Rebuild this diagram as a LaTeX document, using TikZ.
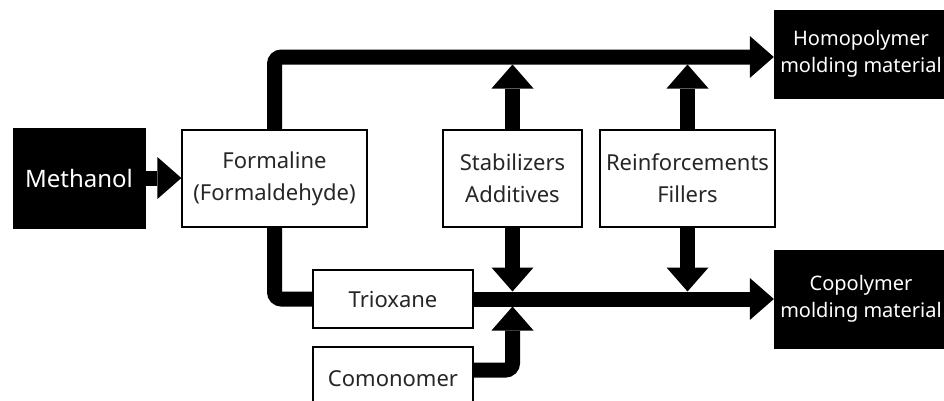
\documentclass[tikz,border=0pt]{standalone}
\usepackage{fontspec}
\setmainfont{Noto Sans}
\usetikzlibrary{arrows.meta}
\tikzset{
  wbox/.style={draw=black, line width=1.3pt, fill=white, align=center, text=black!85,
    inner sep=0pt, font=\fontsize{22}{32}\selectfont},
  bbox/.style={draw=black, fill=black, align=center, text=white,
    inner sep=0pt, font=\fontsize{20}{27}\selectfont},
  pipe/.style={line width=15pt, draw=black},
  flow/.style={pipe, -{Triangle[width=42pt,length=24pt,line width=0pt]}},
}
\begin{document}
\begin{tikzpicture}[x=1pt,y=-1pt]
\useasboundingbox (0,0) rectangle (944,400);
% boxes
\node[bbox, minimum width=132pt, minimum height=100pt, font=\fontsize{24}{30}\selectfont] (meth) at (79,178) {Methanol};
\node[wbox, minimum width=185pt, minimum height=97pt] (form) at (274.5,178.5) {Formaline\\(Formaldehyde)};
\node[wbox, minimum width=139pt, minimum height=97pt] (stab) at (512.5,178.5) {Stabilizers\\Additives};
\node[wbox, minimum width=175pt, minimum height=97pt] (reinf) at (687.5,178.5) {Reinforcements\\Fillers};
\node[bbox, minimum width=174pt, minimum height=88pt] (homo) at (861,54) {Homopolymer\\molding material};
\node[bbox, minimum width=174pt, minimum height=98pt] (copo) at (861,299) {Copolymer\\molding material};
\node[wbox, minimum width=160pt, minimum height=58pt] (triox) at (393,299) {Trioxane};
\node[wbox, minimum width=160pt, minimum height=63pt] (comon) at (393,378.5) {Comonomer};
% helper levels
\coordinate (topY) at (0,57);
\coordinate (topEdge) at (0,64.5);
\coordinate (botEdge) at (0,291.5);
\coordinate (botUnder) at (0,306.5);
\coordinate (comY) at (0,370);
% connectors
\draw[flow] (meth.east) -- (meth.east -| form.west);
\draw[flow, rounded corners=7pt] (form.north) |- (homo.west |- topY);
\draw[pipe, rounded corners=7pt] (form.south) |- (triox.west);
\draw[flow] (triox.east) -- (triox.east -| copo.west);
\draw[flow] (stab.north) -- (stab.north |- topEdge);
\draw[flow] (reinf.north) -- (reinf.north |- topEdge);
\draw[flow] (stab.south) -- (stab.south |- botEdge);
\draw[flow] (reinf.south) -- (reinf.south |- botEdge);
\draw[flow, rounded corners=7pt] (comon.east |- comY) -| (stab.south |- botUnder);
\end{tikzpicture}
\end{document}
